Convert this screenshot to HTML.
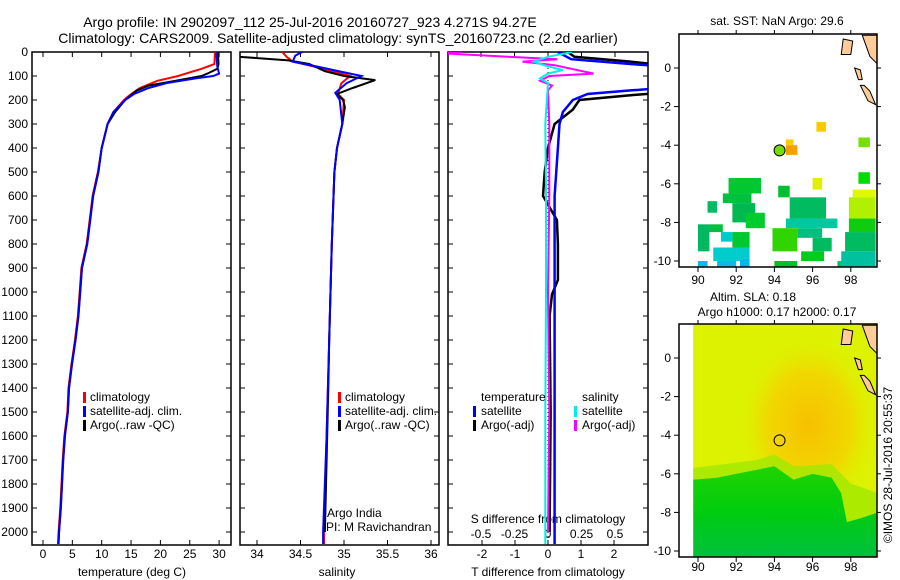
<!DOCTYPE html>
<html><head><meta charset="utf-8">
<style>
html,body{margin:0;padding:0;background:#fff;}
svg{display:block;font-family:"Liberation Sans",sans-serif;}
text{font-size:12px;fill:#000;}
</style></head>
<body>
<svg id="fig" width="900" height="580" viewBox="0 0 900 580" xmlns="http://www.w3.org/2000/svg">
<defs>
<clipPath id="c1"><rect x="32" y="52" width="199" height="493"/></clipPath>
<clipPath id="c2"><rect x="240" y="52" width="199" height="493"/></clipPath>
<clipPath id="c3"><rect x="448" y="52" width="200" height="493"/></clipPath>
<clipPath id="cm1"><rect x="679" y="34" width="198" height="233"/></clipPath>
<clipPath id="cm2"><rect x="679" y="324" width="198" height="233"/></clipPath>
<radialGradient id="orng" cx="0.5" cy="0.5" r="0.5">
<stop offset="0" stop-color="#f8c000"/><stop offset="0.6" stop-color="#f0d800"/><stop offset="1" stop-color="#e0f000" stop-opacity="0"/>
</radialGradient>
<linearGradient id="grn" x1="0" y1="0" x2="0" y2="1">
<stop offset="0" stop-color="#20d400"/><stop offset="0.5" stop-color="#00cc10"/><stop offset="1" stop-color="#00c040"/>
</linearGradient>
</defs>
<text x="310" y="27" text-anchor="middle" style="font-size:14px">Argo profile: IN 2902097_112 25-Jul-2016 20160727_923 4.271S 94.27E</text>
<text x="338" y="43" text-anchor="middle" style="font-size:14px">Climatology: CARS2009. Satellite-adjusted climatology: synTS_20160723.nc (2.2d earlier)</text>
<g id="layer"></g>
<text transform="translate(892,465) rotate(-90)" text-anchor="middle">©IMOS 28-Jul-2016 20:55:37</text>
</svg>
<script>
// ---- data ----
const depthTicks=[0,100,200,300,400,500,600,700,800,900,1000,1100,1200,1300,1400,1500,1600,1700,1800,1900,2000];
const tempTicks=[0,5,10,15,20,25,30];
const salTicks=[34,34.5,35,35.5,36];
const salTickLabels=["34","34.5","35","35.5","36"];
const tdTicks=[-2,-1,0,1,2];
const sdTicks=[-0.5,-0.25,0,0.25,0.5];
const sdTickLabels=["-0.5","-0.25","0","0.25","0.5"];
const lonTicks=[90,92,94,96,98];
const latTicks=[0,-2,-4,-6,-8,-10];

const deepDepth=[500,600,700,800,900,1000,1100,1200,1300,1400,1500,1600,1700,1800,1900,2000,2050];
const deepTemp=[9.4,8.5,8.0,7.5,6.6,6.3,6.0,5.5,4.9,4.4,4.2,3.7,3.4,3.2,3.0,2.7,2.6];
const climTDepth=[0,50,70,100,120,150,175,200,250,300,400];
const climTemp=[29.3,29.2,27,23,19.5,16.5,15,13.8,12,11,10];
const satTDepth=[0,60,90,100,110,130,150,175,200,250,300,400];
const satTemp=[29.5,29.7,30,29,26,21,18,15.5,14,12,11,10];
const argoTDepth=[0,50,70,90,100,120,140,160,200,250,300,400];
const argoTemp=[29.8,29.9,29.7,28,27,22.5,18,16,14,12.3,11,10];

const argoSDepth=[20,35,50,80,100,117,150,175,200,230,300,400,500,800,1200,1400,1700,2000];
const argoSal=[33.8,34.36,34.6,34.78,35.0,35.36,35.1,34.92,34.99,35.01,34.98,34.92,34.89,34.86,34.83,34.82,34.8,34.78];
const climSDepth=[0,20,40,60,100,130,175,200,300,400,500,800,1200,1600,2000,2050];
const climSal=[34.29,34.34,34.41,34.65,35.07,34.97,34.93,35.0,34.98,34.92,34.89,34.86,34.83,34.8,34.77,34.77];
const satSDepth=[0,15,40,60,100,130,170,200,300,400,500,800,1200,1600,2000,2050];
const satSal=[34.52,34.44,34.41,34.68,35.2,35.03,34.9,34.95,34.98,34.92,34.89,34.86,34.83,34.8,34.76,34.76];

const tdSatDepth=[0,30,50,60,150,160,175,200,250,300,400,600,1000,1500,2000,2050];
const tdSat=[0.3,0.7,2.5,3.5,3.5,2.5,1.2,0.75,0.45,0.35,0.3,0.2,0.2,0.2,0.2,0.2];
const tdArgoDepth=[0,20,40,55,170,180,200,240,300,400,500,600,700,800,950,1010,1100,1500,2000];
const tdArgo=[0.6,0.8,2.5,3.5,3.5,2.5,0.95,0.75,0.2,0,-0.1,-0.15,0.27,0.3,0.3,0.12,0.05,0.08,0.05];
const sdSatDepth=[0,20,40,60,75,90,110,130,300,600,1000,1500,2000,2050];
const sdSat=[0.18,0.0,-0.11,0.0,0.11,0.0,-0.06,0.0,-0.02,-0.015,-0.015,-0.02,-0.02,-0.02];
const sdArgoDepth=[0,5,20,30,40,55,90,100,120,140,160,300,600,1000,1500,2000];
const sdArgo=[-0.64,-0.8,-0.3,0.07,-0.19,0.05,0.34,0.01,-0.06,0.03,0.0,0.01,0.01,0.0,0.01,0.0];

// map1 SST cells: [lon0,lon1,lat0,lat1,color]
const sstCells=[
[94.6,95.0,-3.7,-4.0,"#ffcc00"],[94.6,95.2,-4.0,-4.5,"#f5a000"],[96.2,96.7,-2.8,-3.3,"#ffc800"],
[98.4,99.0,-3.6,-4.1,"#77e000"],[98.4,99.0,-5.4,-6.0,"#00dd00"],[96.0,96.5,-5.7,-6.3,"#e0f000"],
[91.6,93.3,-5.7,-6.5,"#00c830"],[91.3,92.8,-6.5,-7.0,"#00c040"],[90.5,91.0,-6.9,-7.5,"#00bb66"],
[91.8,93.0,-7.0,-8.0,"#00b850"],[92.5,93.5,-7.5,-8.3,"#00cc30"],[90.0,90.6,-8.1,-9.5,"#00b860"],
[90.6,91.3,-8.1,-8.5,"#00c040"],[91.2,91.8,-8.5,-9.0,"#00cccc"],[91.8,92.7,-8.5,-9.3,"#00c830"],
[90.8,92.7,-9.3,-10.0,"#00cccc"],[91.0,92.0,-10.0,-10.3,"#10b8e8"],[92.2,92.7,-9.9,-10.3,"#00b8f0"],
[90.0,90.5,-10.0,-10.3,"#10b8e8"],[94.2,94.8,-6.1,-6.7,"#00c030"],[94.8,96.7,-6.7,-7.8,"#00bb60"],
[94.6,97.3,-7.8,-8.3,"#00c8a0"],[93.9,95.2,-8.3,-9.5,"#30d400"],[95.2,96.5,-8.3,-8.8,"#00c080"],
[96.0,97.0,-8.8,-9.5,"#00bb60"],[95.4,96.6,-9.5,-10.0,"#00cc20"],[94.0,95.2,-10.0,-10.4,"#00c030"],
[97.3,98.0,-10.0,-10.4,"#00c070"],[98.1,99.3,-6.3,-6.7,"#e0f800"],[97.9,99.3,-6.7,-7.8,"#b0f000"],
[97.9,99.3,-7.8,-8.5,"#10cc10"],[97.7,99.3,-8.5,-9.5,"#00bb60"],[97.5,99.3,-9.5,-10.3,"#00c0a0"]
];
// land polygons (lon,lat pairs)
const land1=[[97.6,1.5],[98.1,1.4],[98.0,0.7],[97.5,0.7]];
const land2=[[98.6,1.7],[99.4,1.7],[99.4,0.2],[99.0,0.6]];
const land3=[[98.5,-0.9],[98.9,-1.7],[99.3,-1.9],[99.0,-1.2],[98.7,-0.9]];
const land4=[[98.2,0.0],[98.5,-0.1],[98.6,-0.6],[98.4,-0.6]];

// ---- helpers ----
const NS="http://www.w3.org/2000/svg";
const L=document.getElementById('layer');
function mk(tag,attrs,parent){const e=document.createElementNS(NS,tag);for(const k in attrs)e.setAttribute(k,attrs[k]);(parent||L).appendChild(e);return e;}
const yD=d=>52+d*0.24;
const xT=t=>43+t*5.87;
const xS=s=>257+(s-34)*87;
const xTd=t=>548+t*33;
const xSd=s=>548+s*134;
const mX=l=>698+(l-90)*19.1;
const mY1=l=>68-l*19.3;
const mY2=l=>358-l*19.3;

function line(xs,ds,fx,color,clip,name,w){
  const pts=xs.map((v,i)=>fx(v).toFixed(1)+','+yD(ds[i]).toFixed(1)).join(' ');
  const p=mk('polyline',{points:pts,fill:'none',stroke:color,'stroke-width':w||2,'clip-path':'url(#'+clip+')'});
  
  
}
function panel(x,w,name){
  const r=mk('rect',{x:x,y:52,width:w,height:493,fill:'none',stroke:'#000','stroke-width':1.5});
  
  
  depthTicks.forEach(d=>{mk('line',{x1:x,x2:x+5,y1:yD(d),y2:yD(d),stroke:'#000'});mk('line',{x1:x+w-5,x2:x+w,y1:yD(d),y2:yD(d),stroke:'#000'});});
}
function txt(x,y,s,name,anchor){const t=mk('text',{x:x,y:y,'text-anchor':anchor||'start'});t.textContent=s;return t;}

// ---- panel 1 ----
panel(32,199,'temperature-panel');
depthTicks.forEach(d=>{txt(28,yD(d)+4,String(d),'depth-tick-label','end');});
tempTicks.forEach(t=>{mk('line',{x1:xT(t),x2:xT(t),y1:545,y2:540,stroke:'#000'});mk('line',{x1:xT(t),x2:xT(t),y1:52,y2:57,stroke:'#000'});txt(xT(t),558,String(t),'temp-tick-label','middle');});
txt(132,576,'temperature (deg C)','x-axis-title-temperature','middle');
line(climTemp.concat(deepTemp.map(v=>v-0.05)),climTDepth.concat(deepDepth),xT,'#ff0000','c1','climatology-temp-line');
line(argoTemp.concat(deepTemp.map(v=>v+0.02)),argoTDepth.concat(deepDepth),xT,'#000','c1','argo-temp-line');
line(satTemp.concat(deepTemp.map(v=>v+0.05)),satTDepth.concat(deepDepth),xT,'#0000ff','c1','satellite-temp-line');
[['climatology','#f00'],['satellite-adj. clim.','#00f'],['Argo(..raw -QC)','#000']].forEach((e,i)=>{
  mk('rect',{x:83,y:392+i*14,width:3,height:11,fill:e[1]});
  txt(90,401+i*14,e[0],'legend-entry-temp');
});

// ---- panel 2 ----
panel(240,199,'salinity-panel');
salTicks.forEach((s,i)=>{mk('line',{x1:xS(s),x2:xS(s),y1:545,y2:540,stroke:'#000'});mk('line',{x1:xS(s),x2:xS(s),y1:52,y2:57,stroke:'#000'});txt(xS(s),558,salTickLabels[i],'sal-tick-label','middle');});
txt(337,576,'salinity','x-axis-title-salinity','middle');
line(climSal,climSDepth,xS,'#ff0000','c2','climatology-sal-line');
line(argoSal,argoSDepth,xS,'#000','c2','argo-sal-line');
line(satSal,satSDepth,xS,'#0000ff','c2','satellite-sal-line');
[['climatology','#f00'],['satellite-adj. clim.','#00f'],['Argo(..raw -QC)','#000']].forEach((e,i)=>{
  mk('rect',{x:338,y:392+i*14,width:3,height:11,fill:e[1]});
  txt(345,401+i*14,e[0],'legend-entry-sal');
});
txt(327,517,'Argo India','argo-india-label');
txt(326,531,'PI: M Ravichandran','pi-label');

// ---- panel 3 ----
panel(448,200,'difference-panel');
mk('line',{x1:548,x2:548,y1:52,y2:545,stroke:'#000','stroke-dasharray':'1,3'});
tdTicks.forEach(t=>{mk('line',{x1:xTd(t),x2:xTd(t),y1:545,y2:540,stroke:'#000'});txt(xTd(t),558,String(t),'td-tick-label','middle');});
sdTicks.forEach((s,i)=>{mk('line',{x1:xSd(s),x2:xSd(s),y1:52,y2:57,stroke:'#000'});txt(xSd(s),538,sdTickLabels[i],'sd-tick-label','middle');});
txt(548,523,'S difference from climatology','s-diff-axis-title','middle');
txt(548,576,'T difference from climatology','t-diff-axis-title','middle');
line(tdArgo,tdArgoDepth,xTd,'#000','c3','argo-tdiff-line',2.5);
line(tdSat,tdSatDepth,xTd,'#0000ff','c3','satellite-tdiff-line',2.5);
line(sdArgo,sdArgoDepth,xSd,'#ff00ff','c3','argo-sdiff-line');
line(sdSat,sdSatDepth,xSd,'#00eeee','c3','satellite-sdiff-line');
txt(481,401,'temperature','legend-title-temperature');
txt(582,401,'salinity','legend-title-salinity');
[[473,'satellite','#00f'],[473,'Argo(-adj)','#000'],[574,'satellite','#0ee'],[574,'Argo(-adj)','#f0f']].forEach((e,i)=>{
  const row=i%2;
  mk('rect',{x:e[0],y:406+row*14,width:3,height:11,fill:e[2]});
  txt(e[0]+8,415+row*14,e[1],'legend-entry-diff');
});

// ---- maps ----
function mapFrame(y0,mY,name,clip){
  const g=mk('g',{});
  
  
  return g;
}
function mapAxes(y0,mY,labelY){
  mk('rect',{x:679,y:y0,width:198,height:233,fill:'none',stroke:'#000','stroke-width':1.5});
  lonTicks.forEach(l=>{mk('line',{x1:mX(l),x2:mX(l),y1:y0+233,y2:y0+238,stroke:'#000'});mk('line',{x1:mX(l),x2:mX(l),y1:y0,y2:y0-4,stroke:'#000'});txt(mX(l),labelY,String(l),'lon-tick-label','middle');});
  latTicks.forEach(l=>{mk('line',{x1:674,x2:679,y1:mY(l),y2:mY(l),stroke:'#000'});mk('line',{x1:877,x2:881,y1:mY(l),y2:mY(l),stroke:'#000'});txt(671,mY(l)+4,String(l),'lat-tick-label','end');});
}
function drawLand(mY,clip,g){
  [land1,land2,land3,land4].forEach(p=>{
    const el=mk('polygon',{points:p.map(q=>mX(q[0])+','+mY(q[1])).join(' '),fill:'#ffcc99',stroke:'#000','stroke-width':1,'clip-path':'url(#'+clip+')'},g);
    
    
  });
}
// map 1
const g1=mapFrame(34,mY1,'sst-map','cm1');
sstCells.forEach(c=>{
  const r=mk('rect',{x:mX(c[0]),y:mY1(c[2]),width:mX(c[1])-mX(c[0]),height:mY1(c[3])-mY1(c[2]),fill:c[4],'clip-path':'url(#cm1)'},g1);
  
  
});
drawLand(mY1,'cm1',g1);
mapAxes(34,mY1,284);
txt(777,25,'sat. SST: NaN Argo: 29.6','sst-map-title','middle');
const p1=mk('circle',{cx:mX(94.27),cy:mY1(-4.27),r:5.5,fill:'#77dd00',stroke:'#000'});



// map 2
const g2=mapFrame(324,mY2,'sla-map','cm2');
mk('rect',{x:mX(89.75),y:324,width:877-mX(89.75),height:233,fill:'#dcf200','clip-path':'url(#cm2)'},g2);
mk('ellipse',{cx:mX(95.8),cy:mY2(-3.5),rx:70,ry:90,fill:'url(#orng)','clip-path':'url(#cm2)'},g2);
const gp=[[89.75,-6.3],[91,-6.2],[92,-6.0],[93,-5.8],[94,-5.6],[95,-6.3],[96,-6.0],[97,-6.2],[97.5,-7],[97.8,-8.5],[98.5,-8.3],[99.4,-8.0],[99.4,-10.4],[89.75,-10.4]];
const gpoly=mk('polygon',{points:gp.map(q=>mX(q[0])+','+mY2(q[1])).join(' '),fill:'url(#grn)','clip-path':'url(#cm2)'},g2);


mk('polygon',{points:[[89.75,-5.7],[93,-5.3],[94,-5.0],[95,-5.6],[97,-5.5],[98,-6.5],[99.4,-7],[99.4,-8.0],[98.5,-8.3],[97.8,-8.5],[97.5,-7],[97,-6.2],[96,-6.0],[95,-6.3],[94,-5.6],[93,-5.8],[92,-6.0],[91,-6.2],[89.75,-6.3]].map(q=>mX(q[0])+','+mY2(q[1])).join(' '),fill:'#a0e800',opacity:0.8,'clip-path':'url(#cm2)'},g2);
drawLand(mY2,'cm2',g2);
mapAxes(324,mY2,571);
txt(753,301,'Altim. SLA: 0.18','sla-map-title','middle');
txt(777,316,'Argo h1000: 0.17 h2000: 0.17','sla-map-subtitle','middle');
const p2=mk('circle',{cx:mX(94.27),cy:mY2(-4.27),r:5.5,fill:'none',stroke:'#000'});


</script>
</body></html>
